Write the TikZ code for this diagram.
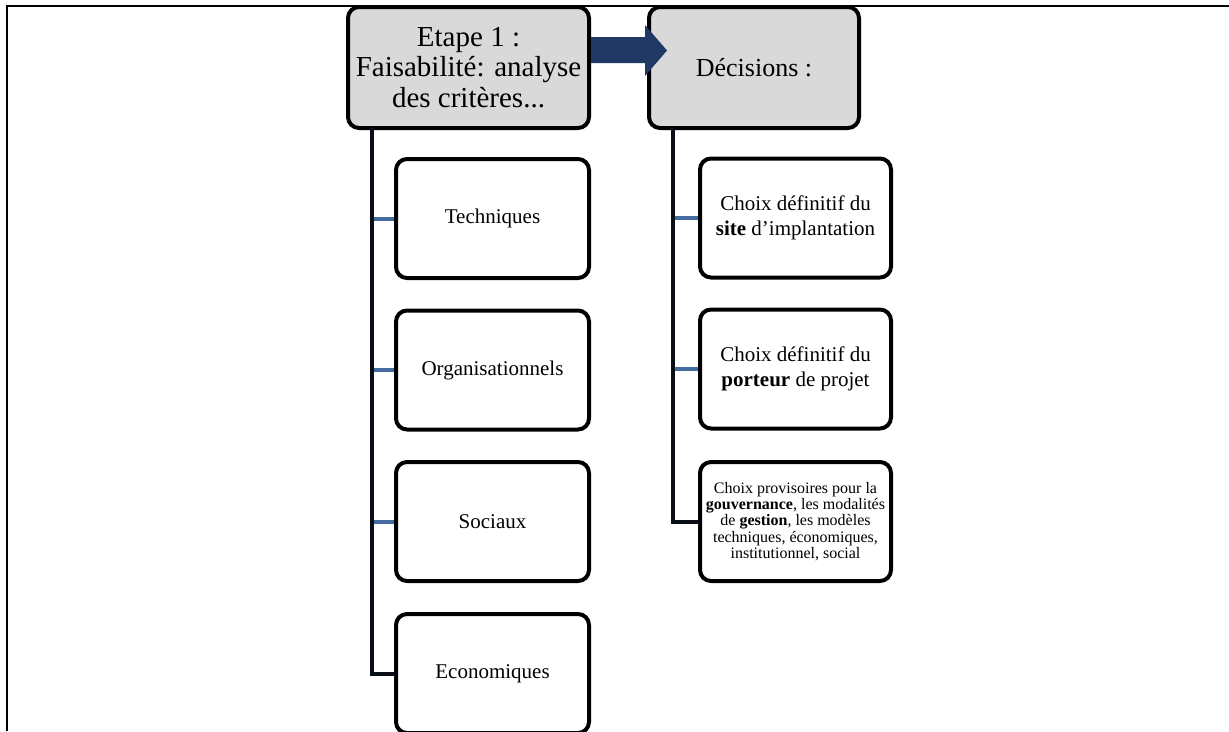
\documentclass[tikz,border=0pt]{standalone}
\usepackage{fontspec}
\setmainfont{Liberation Serif}
\definecolor{navy}{RGB}{31,56,100}
\definecolor{branchblue}{RGB}{68,108,160}
\definecolor{headgray}{RGB}{217,217,217}
\definecolor{trunkcol}{RGB}{10,14,22}
\begin{document}
\begin{tikzpicture}[x=1pt,y=-1pt,
  headbox/.style={draw=black,line width=4pt,rounded corners=11pt,fill=headgray,
    align=center,inner sep=0pt,minimum height=121pt},
  childbox/.style={draw=black,line width=4pt,rounded corners=11pt,fill=white,
    align=center,inner sep=0pt,minimum height=119pt},
  branch/.style={draw=branchblue,line width=4pt},
  trunk/.style={draw=trunkcol,line width=4pt},
  frameline/.style={draw=black,line width=2pt}]
\useasboundingbox (0,0) rectangle (1229,731);
\begin{scope}
\clip (0,0) rectangle (1229,731);
\fill[white] (0,0) rectangle (1229,731);
% frame
\coordinate (f1) at (7,731);
\coordinate (f2) at (7,6);
\coordinate (f3) at (1229,6);
\draw[frameline] (f1) -- (f2) -- (f3);
% header boxes
\node[headbox,minimum width=241pt,font=\fontsize{29}{30.5}\selectfont] (A) at (468.5,67.5)
  {Etape 1 :\\Faisabilité: analyse\\des critères...};
\node[headbox,minimum width=210pt,font=\fontsize{26}{30}\selectfont] (B) at (754,67.5)
  {Décisions :};
% left children
\tikzset{mid/.style={font=\fontsize{21}{24.5}\selectfont}}
\node[childbox,mid,minimum width=193pt] (T) at (492.5,218.5) {Techniques};
\node[childbox,mid,minimum width=193pt] (O) at (492.5,370) {Organisationnels};
\node[childbox,mid,minimum width=193pt] (S) at (492.5,521.5) {Sociaux};
\node[childbox,mid,minimum width=193pt] (E) at (492.5,673.5) {Economiques};
% right children
\node[childbox,mid,minimum width=191pt] (R1) at (795.5,218)
  {Choix définitif du\\\textbf{site} d’implantation};
\node[childbox,mid,minimum width=191pt] (R2) at (795.5,369)
  {Choix définitif du\\\textbf{porteur} de projet};
\node[childbox,minimum width=191pt,font=\fontsize{16}{16.3}\selectfont] (R3) at (795.5,521.5)
  {Choix provisoires pour la\\\textbf{gouvernance}, les modalités\\de \textbf{gestion}, les modèles\\techniques, économiques,\\institutionnel, social};
% connectors
\coordinate (lt) at (372,128);
\coordinate (rt) at (673,128);
\draw[branch] (lt |- T.west) -- (T.west);
\draw[branch] (lt |- O.west) -- (O.west);
\draw[branch] (lt |- S.west) -- (S.west);
\draw[trunk] (lt) |- (E.west);
\draw[branch] (rt |- R1.west) -- (R1.west);
\draw[branch] (rt |- R2.west) -- (R2.west);
\draw[trunk] (rt) |- (R3.west);
% arrow
\fill[navy] (A.east |- 0,37) -- (645,37) -- (645,25) -- (667,50.5) -- (645,76) -- (645,63) -- (A.east |- 0,63) -- cycle;
\end{scope}
\end{tikzpicture}
\end{document}
